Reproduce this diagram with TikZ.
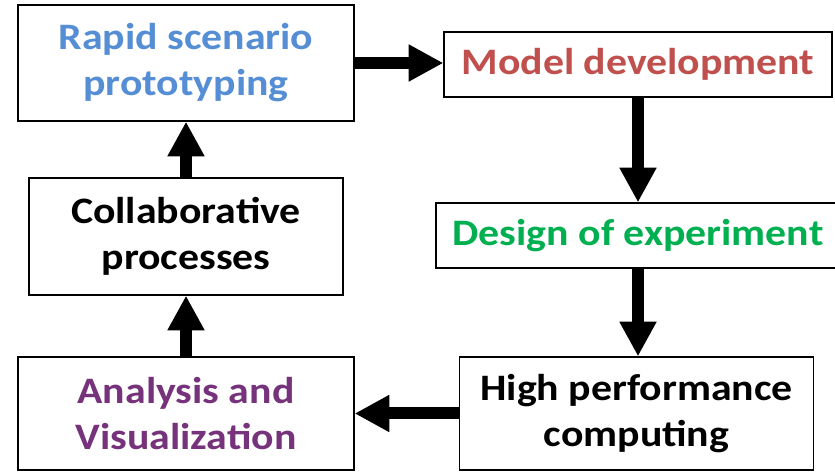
\documentclass[tikz,border=0pt]{standalone}
\usepackage{fontspec}
\setmainfont{Carlito}[FakeStretch=1.12]
\usetikzlibrary{arrows.meta, positioning}
\definecolor{protoblue}{RGB}{85,142,213}
\definecolor{modelred}{RGB}{192,80,77}
\definecolor{doegreen}{RGB}{0,176,80}
\definecolor{vispurple}{RGB}{118,50,122}

\tikzset{
  stagebox/.style={draw=black, line width=0.9pt, fill=white, align=center,
    inner sep=0pt, font=\bfseries\fontsize{28}{34.5}\selectfont},
  flow/.style={line width=9pt, -{Triangle[length=26pt, width=26pt]}}
}

\begin{document}
\begin{tikzpicture}[x=0.75pt, y=-0.75pt]
\clip (0,0) rectangle (835,473);
\fill[white] (0,0) rectangle (835,473);

\node[stagebox, minimum width=252pt, minimum height=87pt, text=protoblue]
  (rapid) at (186,63) {Rapid scenario\\prototyping};
\node[stagebox, minimum width=291pt, minimum height=48.75pt, text=modelred]
  (model) at (638,64.5) {Model development};
\node[stagebox, minimum width=303pt, minimum height=48.75pt, text=doegreen]
  (design) at (638,235.5) {Design of experiment};
\node[stagebox, minimum width=266pt, minimum height=84.75pt]
  (hpc) at (636.5,413.5) {High performance\\computing};
\node[stagebox, minimum width=252pt, minimum height=84.75pt, text=vispurple]
  (analysis) at (186,413.5) {Analysis and\\Visualization};
\node[stagebox, minimum width=235.5pt, minimum height=87.75pt]
  (collab) at (186,236.5) {Collaborative\\processes};

\draw[flow] (rapid.east) -- (rapid.east -| model.west);
\draw[flow] (model.south) -- (design.north);
\draw[flow] (design.south) -- (design.south |- hpc.north);
\draw[flow] (hpc.west) -- (analysis.east);
\draw[flow] (analysis.north) -- (collab.south);
\draw[flow] (collab.north) -- (rapid.south);
\end{tikzpicture}
\end{document}
